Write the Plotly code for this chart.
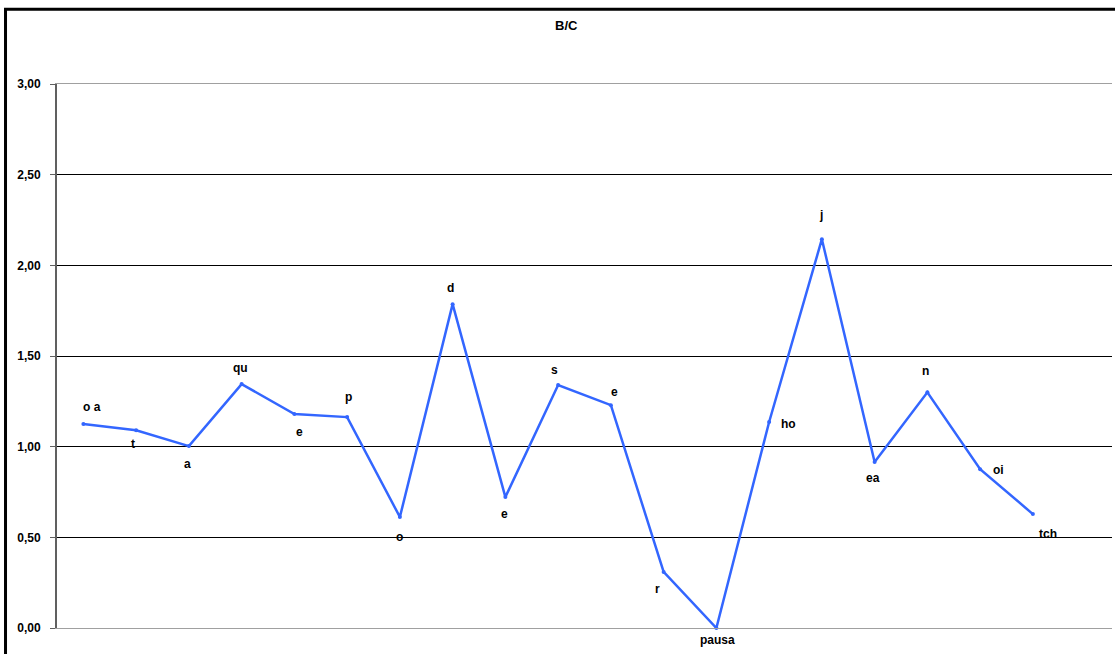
import plotly.graph_objects as go

# ---- data ----
positions = list(range(1, 20))          # category index (20 categories, last empty)
labels = ["o a", "t", "a", "qu", "e", "p", "o", "d", "e", "s", "e", "r",
          "pausa", "ho", "j", "ea", "n", "oi", "tch"]
values = [1.125, 1.09, 1.003, 1.345, 1.18, 1.163, 0.612, 1.786, 0.722, 1.34,
          1.229, 0.309, 0.0, 1.136, 2.144, 0.915, 1.30, 0.876, 0.628]
y_ticks = [0, 0.5, 1.0, 1.5, 2.0, 2.5, 3.0]
y_tick_labels = ["0,00", "0,50", "1,00", "1,50", "2,00", "2,50", "3,00"]
title_text = "B/C"
n_categories = 20

# ---- label placement (style only, pixel offsets) ----
label_dx = [9, -3, -1, -1, 5, 1, 0, -2, -1, -4, 4, -6, 1, 19, -1, -2, -2, 18, 15]
label_dy = [17, -14, -18, 16, -18, 20, -20, 16, -17, 15, 13, -17, -12, -2, 24, -16, 21, -1, -20]

COLOR = "#3366FF"
FONT = "Liberation Sans, Arial, sans-serif"

fig = go.Figure()
fig.add_trace(go.Scatter(
    x=positions, y=values, mode="lines+markers",
    line=dict(color=COLOR, width=2.5),
    marker=dict(color=COLOR, size=4),
    hoverinfo="skip", cliponaxis=False, showlegend=False,
))

for xi, yi, lab, dx, dy in zip(positions, values, labels, label_dx, label_dy):
    fig.add_annotation(x=xi, y=yi, text=f"<b>{lab}</b>", showarrow=False,
                       xshift=dx, yshift=dy, xanchor="center", yanchor="middle",
                       font=dict(family=FONT, size=12, color="#000000"))

fig.add_annotation(xref="paper", yref="paper", x=0.4825, y=1.1075,
                   xanchor="center", yanchor="middle",
                   text=f"<b>{title_text}</b>", showarrow=False,
                   font=dict(family=FONT, size=13, color="#000000"))

# outer chart frame
fig.add_shape(type="rect", xref="paper", yref="paper",
              x0=-0.0488, x1=1.2, y0=-0.3, y1=1.1375,
              line=dict(color="#000000", width=3), layer="below")

fig.update_layout(
    width=1115, height=654,
    margin=dict(l=57, r=3, t=84, b=26, pad=0),
    paper_bgcolor="#FFFFFF", plot_bgcolor="#FFFFFF",
    xaxis=dict(range=[0.5, n_categories + 0.5], showticklabels=False,
               showgrid=False, zeroline=False, showline=True,
               linecolor="#A0A0A0", linewidth=1, mirror=True, ticks=""),
    yaxis=dict(range=[0, 3], tickvals=y_ticks,
               ticktext=[f"<b>{t}</b>" for t in y_tick_labels],
               showgrid=True, gridcolor="#000000", gridwidth=1,
               zeroline=False, showline=True, linecolor="#606060", linewidth=2,
               ticks="outside", ticklen=5, tickcolor="#606060",
               ticklabelstandoff=7,
               tickfont=dict(family=FONT, size=12, color="#000000")),
    font=dict(family=FONT),
)

fig.write_html("out.html", config={"displayModeBar": False},
               post_script="document.body.style.margin='0';")
